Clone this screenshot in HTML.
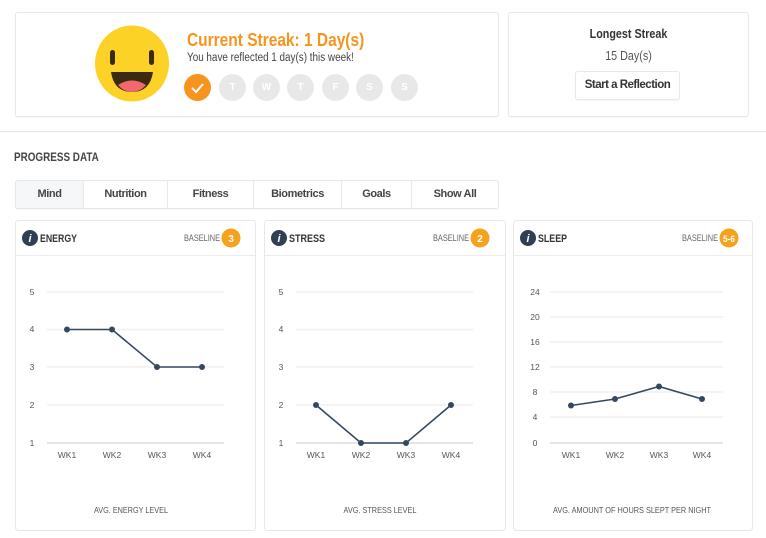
<!DOCTYPE html>
<html><head><style>
body{margin:0;width:766px;height:538px;background:#fff;font-family:"Liberation Sans Narrow","Liberation Sans",sans-serif;color:#333;position:relative;overflow:hidden}
.card{position:absolute;border:1px solid #e8e8e8;border-radius:3px;background:#fff;box-sizing:border-box;box-shadow:0 1px 1px rgba(0,0,0,0.04)}
.abs{position:absolute;white-space:nowrap}
.nar{transform:scaleX(0.86);transform-origin:left center}
.narc{transform:scaleX(0.86);transform-origin:center center}
.day{position:absolute;top:74px;width:27px;height:27px;border-radius:50%;background:#e8e8e8;color:#fff;font-size:10px;font-weight:bold;text-align:center;line-height:27px}
.tab{position:absolute;top:0;height:27px;line-height:27px;text-align:center;font-size:11px;font-weight:bold;color:#444;border-right:1px solid #e8e8e8;box-sizing:border-box;letter-spacing:-0.4px}
</style></head><body>
<div class="card" style="left:15px;top:12px;width:484px;height:105px"></div>
<div class="card" style="left:508px;top:12px;width:241px;height:105px"></div>
<svg class="abs" style="left:94px;top:25px" width="76" height="77" viewBox="0 0 76 77">
<ellipse cx="38" cy="38.5" rx="37" ry="38" fill="#fcd227"/>
<rect x="16" y="25" width="5" height="15" rx="2.5" fill="#3b2a10"/>
<rect x="55" y="25" width="5" height="15" rx="2.5" fill="#3b2a10"/>
<path d="M17 47 H59 Q56 67 38 67 Q20 67 17 47Z" fill="#3b2a10"/>
<path d="M24 60 Q38 51 52 60 Q46 67 38 67 Q30 67 24 60Z" fill="#f2686e"/>
</svg>
<div class="abs nar" style="left:187px;top:30px;font-size:18px;font-weight:bold;color:#f7941d">Current Streak: 1 Day(s)</div>
<div class="abs nar" style="left:187px;top:52px;font-size:11.5px;color:#444">You have reflected 1 day(s) this week!</div>
<div class="day" style="left:184px;background:#f7941d"><svg width="27" height="27"><path d="M8 14 L12 18 L19 10" fill="none" stroke="#fff" stroke-width="2"/></svg></div>
<div class="day" style="left:219px">T</div>
<div class="day" style="left:253px">W</div>
<div class="day" style="left:287px">T</div>
<div class="day" style="left:322px">F</div>
<div class="day" style="left:356px">S</div>
<div class="day" style="left:391px">S</div>
<div class="abs narc" style="left:508px;width:241px;text-align:center;top:27px;font-size:12.5px;font-weight:bold">Longest Streak</div>
<div class="abs narc" style="left:508px;width:241px;text-align:center;top:49px;font-size:12.5px;color:#555">15 Day(s)</div>
<div class="card" style="left:575px;top:71px;width:105px;height:29px;text-align:center;line-height:27px;font-size:11.5px;font-weight:bold;letter-spacing:-0.5px">Start a Reflection</div>
<div class="abs" style="left:0;top:131px;width:766px;height:1px;background:#e6e6e6"></div>
<div class="abs nar" style="left:14px;top:152px;font-size:11.5px;font-weight:bold;color:#444">PROGRESS DATA</div>
<div class="card" style="left:15px;top:180px;width:484px;height:29px;overflow:hidden">
<div class="tab" style="left:0;width:68px;background:#f6f7f9">Mind</div>
<div class="tab" style="left:68px;width:84px">Nutrition</div>
<div class="tab" style="left:152px;width:86px">Fitness</div>
<div class="tab" style="left:238px;width:88px">Biometrics</div>
<div class="tab" style="left:326px;width:70px">Goals</div>
<div class="tab" style="left:396px;width:86px;border:none">Show All</div>
</div>
<svg class="abs" style="left:0;top:0" width="766" height="538" font-family="Liberation Sans Narrow, Liberation Sans, sans-serif">
<g fill="#fff" stroke="#e8e8e8">
<rect x="15.5" y="220.5" width="240" height="310" rx="3"/>
<rect x="264.5" y="220.5" width="241" height="310" rx="3"/>
<rect x="513.5" y="220.5" width="239" height="310" rx="3"/>
</g>
<g stroke="#ececec"><line x1="16" x2="255" y1="255.5" y2="255.5"/><line x1="265" x2="505" y1="255.5" y2="255.5"/><line x1="514" x2="752" y1="255.5" y2="255.5"/></g>
<g font-size="11" font-weight="bold" fill="#333">
<circle cx="30" cy="238" r="8" fill="#2f4054"/><text x="30" y="242" fill="#fff" text-anchor="middle" font-style="italic" font-size="11">i</text><text x="40" y="242" textLength="37" lengthAdjust="spacingAndGlyphs">ENERGY</text>
<circle cx="279" cy="238" r="8" fill="#2f4054"/><text x="279" y="242" fill="#fff" text-anchor="middle" font-style="italic" font-size="11">i</text><text x="289" y="242" textLength="36" lengthAdjust="spacingAndGlyphs">STRESS</text>
<circle cx="528" cy="238" r="8" fill="#2f4054"/><text x="528" y="242" fill="#fff" text-anchor="middle" font-style="italic" font-size="11">i</text><text x="538" y="242" textLength="29" lengthAdjust="spacingAndGlyphs">SLEEP</text>
</g>
<g font-size="9" fill="#666">
<text x="184" y="241" textLength="36" lengthAdjust="spacingAndGlyphs">BASELINE</text><text x="433" y="241" textLength="36" lengthAdjust="spacingAndGlyphs">BASELINE</text><text x="682" y="241" textLength="36" lengthAdjust="spacingAndGlyphs">BASELINE</text></g>
<g fill="#f7a21d"><circle cx="231" cy="238" r="9.5"/><circle cx="480" cy="238" r="9.5"/><circle cx="729" cy="238" r="9.5"/></g>
<g fill="#fff" font-size="10" font-weight="bold" text-anchor="middle"><text x="231" y="242">3</text><text x="480" y="242">2</text><text x="729" y="242" font-size="9" textLength="12" lengthAdjust="spacingAndGlyphs">5-6</text></g>
<g stroke="#f0f0f0" stroke-width="1.5">
<line x1="47" x2="224" y1="292" y2="292"/><line x1="47" x2="224" y1="329.5" y2="329.5"/><line x1="47" x2="224" y1="367" y2="367"/><line x1="47" x2="224" y1="405" y2="405"/>
<line x1="296" x2="473" y1="292" y2="292"/><line x1="296" x2="473" y1="329.5" y2="329.5"/><line x1="296" x2="473" y1="367" y2="367"/><line x1="296" x2="473" y1="405" y2="405"/>
<line x1="550" x2="723" y1="292" y2="292"/><line x1="550" x2="723" y1="317" y2="317"/><line x1="550" x2="723" y1="342" y2="342"/><line x1="550" x2="723" y1="367" y2="367"/><line x1="550" x2="723" y1="392" y2="392"/><line x1="550" x2="723" y1="417" y2="417"/>
</g>
<g stroke="#dcdde6" stroke-width="1.5"><line x1="47" x2="224" y1="443" y2="443"/><line x1="296" x2="473" y1="443" y2="443"/><line x1="550" x2="723" y1="443" y2="443"/></g>
<g font-size="8.5" fill="#555" text-anchor="middle">
<text x="32" y="295">5</text><text x="32" y="332">4</text><text x="32" y="370">3</text><text x="32" y="408">2</text><text x="32" y="446">1</text>
<text x="281" y="295">5</text><text x="281" y="332">4</text><text x="281" y="370">3</text><text x="281" y="408">2</text><text x="281" y="446">1</text>
<text x="535" y="295">24</text><text x="535" y="320">20</text><text x="535" y="345">16</text><text x="535" y="370">12</text><text x="535" y="395">8</text><text x="535" y="420">4</text><text x="535" y="446">0</text>
<text x="67" y="458">WK1</text><text x="112" y="458">WK2</text><text x="157" y="458">WK3</text><text x="202" y="458">WK4</text>
<text x="316" y="458">WK1</text><text x="361" y="458">WK2</text><text x="406" y="458">WK3</text><text x="451" y="458">WK4</text>
<text x="571" y="458">WK1</text><text x="615" y="458">WK2</text><text x="659" y="458">WK3</text><text x="702" y="458">WK4</text>
<text x="131" y="513" textLength="74" lengthAdjust="spacingAndGlyphs">AVG. ENERGY LEVEL</text><text x="380" y="513" textLength="73" lengthAdjust="spacingAndGlyphs">AVG. STRESS LEVEL</text><text x="632" y="513" textLength="158" lengthAdjust="spacingAndGlyphs">AVG. AMOUNT OF HOURS SLEPT PER NIGHT</text>
</g>
<g fill="none" stroke="#34495e" stroke-width="1.6">
<polyline points="67,329.5 112,329.5 157,367 202,367"/>
<polyline points="316,405 361,443 406,443 451,405"/>
<polyline points="571,405.5 615,399 659,386.5 702,399"/>
</g>
<g fill="#34495e">
<circle cx="67" cy="329.5" r="3"/><circle cx="112" cy="329.5" r="3"/><circle cx="157" cy="367" r="3"/><circle cx="202" cy="367" r="3"/>
<circle cx="316" cy="405" r="3"/><circle cx="361" cy="443" r="3"/><circle cx="406" cy="443" r="3"/><circle cx="451" cy="405" r="3"/>
<circle cx="571" cy="405.5" r="3"/><circle cx="615" cy="399" r="3"/><circle cx="659" cy="386.5" r="3"/><circle cx="702" cy="399" r="3"/>
</g>
</svg>
</body></html>
